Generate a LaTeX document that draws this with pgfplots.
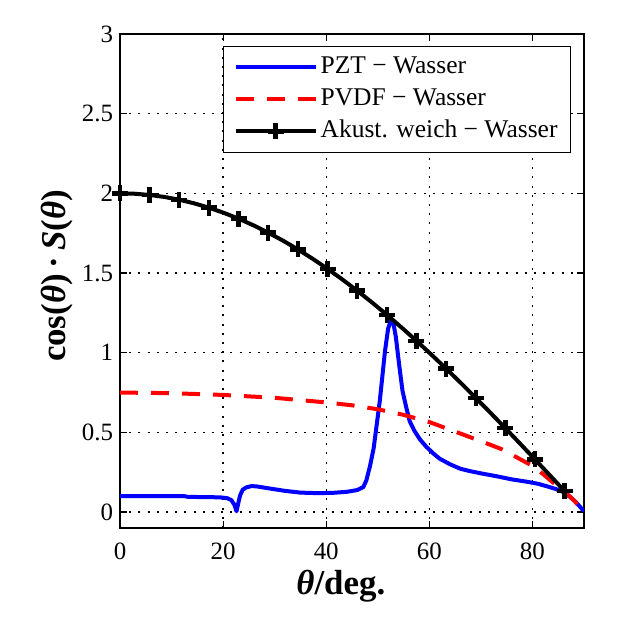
\documentclass[border=0pt]{standalone}
\usepackage{fontspec}
\setmainfont{Liberation Serif}
\usepackage{pgfplots}
\pgfplotsset{compat=1.18}
\begin{document}
\begin{tikzpicture}
\begin{axis}[
  at={(0,0)}, anchor=south west,
  scale only axis, width=232bp, height=247bp,
  xmin=0, xmax=90, ymin=-0.1, ymax=3,
  xtick={0,20,40,60,80}, ytick={0,0.5,1,1.5,2,2.5,3},
  tick align=inside, tick pos=both, major tick length=3.5bp,
  tick style={black, line width=0.6bp},
  grid=major, grid style={black, line width=0.7bp, dash pattern=on 1bp off 3.6bp},
  axis line style={line width=0.7bp},
  /pgf/number format/assume math mode=true,
  tick label style={font=\fontsize{12.5}{15}\selectfont},
  xticklabel style={yshift=-4bp},
  every axis x label/.style={at={(axis description cs:0.476,-0.1356)}, anchor=base,
     font=\fontsize{17.5}{21}\selectfont\bfseries},
  every axis y label/.style={at={(axis description cs:-0.1185,0.51)}, anchor=base, rotate=90,
     font=\fontsize{17.5}{21}\selectfont\bfseries},
  xlabel={\textit{θ}/deg.},
  ylabel={cos(\textit{θ})\,·\,\textit{S}(\textit{θ})},
  legend style={at={(1,1)}, anchor=north east, xshift=-6.5bp, yshift=-6bp,
     draw=black, line width=0.5bp, fill=white,
     inner xsep=5bp, inner ysep=2.5bp,
     font=\fontsize{12.8}{15}\selectfont,
     nodes={inner sep=1.5bp, text height=9.5bp, text depth=3.5bp},
     /tikz/every even column/.append style={column sep=1bp}},
  legend cell align=left,
  legend image code/.code={\draw[mark repeat=2,mark phase=2,#1] plot coordinates {(0bp,0bp)(20bp,0bp)(40bp,0bp)};},
]
\addplot[color={rgb,255:red,0;green,0;blue,255}, line width=2bp, line join=round] coordinates {
(0,0.100) (6,0.100) (12.5,0.100) (13.2,0.095) (17,0.094) (19.5,0.092) (20.8,0.087)
(21.6,0.075) (22.2,0.045) (22.6,0.005) (22.9,0.05) (23.3,0.105) (23.8,0.14) (24.5,0.155)
(25.5,0.163) (26.5,0.161) (29,0.148) (32,0.133) (35,0.122) (38,0.119) (41,0.12) (44,0.127)
(46,0.138) (47.2,0.157) (47.8,0.2) (48.5,0.29) (49.2,0.40) (50.4,0.70) (51.4,1.01)
(52.0,1.15) (52.5,1.20) (53.0,1.19) (53.5,1.10) (54.2,0.91) (54.8,0.76) (55.5,0.66)
(56.2,0.57) (57.1,0.51) (58.2,0.455) (59.4,0.41) (60.7,0.37) (62,0.335) (64,0.30)
(66,0.272) (68,0.256) (70,0.243) (73,0.225) (76,0.205) (79,0.19) (81,0.178) (83,0.16)
(84.5,0.145) (86,0.125) (87.3,0.095) (88.5,0.06) (90,0.005)
};
\addlegendentry{PZT − Wasser}
\addplot[color={rgb,255:red,255;green,0;blue,0}, line width=2bp, dash pattern=on 9bp off 6.5bp] coordinates {
(0,0.750) (10,0.746) (20,0.735) (30,0.717) (40,0.688) (45,0.670) (50,0.645) (55,0.610)
(60,0.565) (65,0.505) (70,0.445) (74,0.395) (78,0.325) (80,0.29) (82,0.24) (84,0.185)
(86,0.135) (88,0.075) (90,0)
};
\addlegendentry{PVDF − Wasser}
\addplot[black, line width=2bp, mark=+, mark size=4bp, mark repeat=2,
  mark options={line width=2.2bp, solid}] coordinates {
(0,2.00000) (2.875,1.99748) (5.75,1.98994) (8.625,1.97738) (11.5,1.95985) (14.375,1.93738)
(17.25,1.91004) (20.125,1.87790) (23.0,1.84101) (25.875,1.79950) (28.75,1.75345)
(31.625,1.70299) (34.5,1.64825) (37.375,1.58937) (40.25,1.52646) (43.125,1.45973)
(46.0,1.38932) (48.875,1.31543) (51.75,1.23819) (54.625,1.15784) (57.5,1.07460)
(60.375,0.98864) (63.25,0.90020) (66.125,0.80951) (69.0,0.71674) (71.875,0.62217)
(74.75,0.52606) (77.625,0.42863) (80.5,0.33010) (83.375,0.23075) (86.25,0.13081)
};
\addlegendentry{Akust. weich − Wasser}
\end{axis}
\pgfresetboundingbox
\path[use as bounding box] (-60bp,-46.5bp) rectangle (260.5bp,264bp);
\end{tikzpicture}
\end{document}
